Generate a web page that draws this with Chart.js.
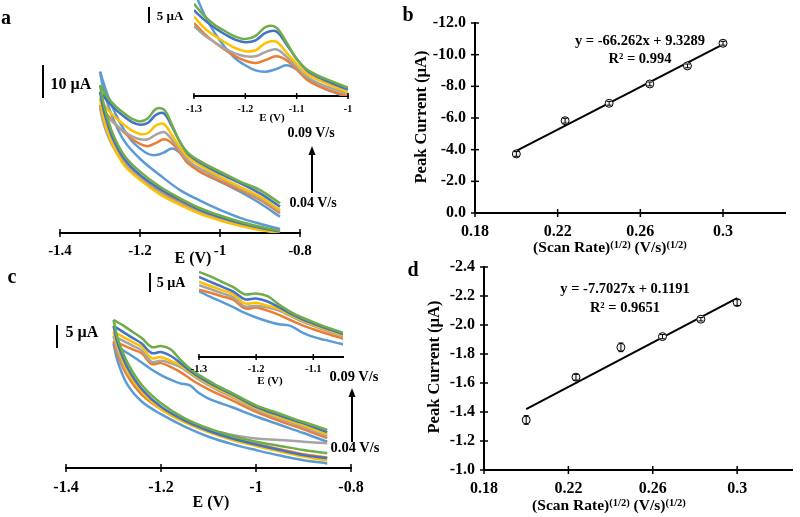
<!DOCTYPE html>
<html>
<head>
<meta charset="utf-8">
<script src="https://cdn.jsdelivr.net/npm/chart.js@4.4.1/dist/chart.umd.min.js"></script>
<style>
  body { margin: 0; background: #fff; }
  #wrap { position: relative; width: 800px; height: 517px; overflow: hidden;
          font-family: "Liberation Serif", "Times New Roman", serif; font-weight: bold; color: #000; }
  #wrap canvas { position: absolute; left: 0; top: 0; }
  .t { position: absolute; white-space: nowrap; line-height: 1; transform: translate(-50%, -50%); }
  .rot { transform: translate(-50%, -50%) rotate(-90deg); }
  sup { font-size: 0.68em; vertical-align: 0.45em; line-height: 0; }
</style>
</head>
<body>
<div id="wrap">
  <canvas id="cvA" width="800" height="517"></canvas>
  <canvas id="cvAi" width="800" height="517"></canvas>
  <canvas id="cvC" width="800" height="517"></canvas>
  <canvas id="cvCi" width="800" height="517"></canvas>
  <canvas id="rateB" width="800" height="517"></canvas>
  <canvas id="rateD" width="800" height="517"></canvas>

  <div class="t" style="left:6px;top:17px;font-size:20px">a</div>
  <div class="t" style="left:408px;top:14px;font-size:20px">b</div>
  <div class="t" style="left:12px;top:276px;font-size:20px">c</div>
  <div class="t" style="left:413px;top:269px;font-size:20px">d</div>

  <div class="t" style="left:71px;top:84px;font-size:16px">10 µA</div>
  <div class="t" style="left:170px;top:15px;font-size:13px">5 µA</div>
  <div class="t" style="left:311px;top:133px;font-size:14px">0.09 V/s</div>
  <div class="t" style="left:313px;top:203px;font-size:14px">0.04 V/s</div>
  <div class="t" style="left:193px;top:258px;font-size:16px">E (V)</div>
  <div class="t" style="left:272px;top:117px;font-size:11px">E (V)</div>

  <div class="t" style="left:82px;top:332px;font-size:16px">5 µA</div>
  <div class="t" style="left:171px;top:283px;font-size:14px">5 µA</div>
  <div class="t" style="left:354px;top:376px;font-size:14.5px">0.09 V/s</div>
  <div class="t" style="left:355px;top:447px;font-size:14.5px">0.04 V/s</div>
  <div class="t" style="left:211px;top:502px;font-size:16px">E (V)</div>
  <div class="t" style="left:270px;top:380px;font-size:11px">E (V)</div>

  <div class="t" style="left:640px;top:40px;font-size:14.5px">y = -66.262x + 9.3289</div>
  <div class="t" style="left:640px;top:58px;font-size:14.5px">R² = 0.994</div>
  <div class="t" style="left:610px;top:247px;font-size:15.5px">(Scan Rate)<sup>(1/2)</sup> (V/s)<sup>(1/2)</sup></div>
  <div class="t rot" style="left:421px;top:117px;font-size:16.5px">Peak Current (µA)</div>

  <div class="t" style="left:625px;top:288px;font-size:14.5px">y = -7.7027x + 0.1191</div>
  <div class="t" style="left:625px;top:307px;font-size:14.5px">R² = 0.9651</div>
  <div class="t" style="left:609px;top:505px;font-size:15.5px">(Scan Rate)<sup>(1/2)</sup> (V/s)<sup>(1/2)</sup></div>
  <div class="t rot" style="left:434px;top:367px;font-size:16.5px">Peak Current (µA)</div>
</div>

<script>
// scan rates and Excel-like colours
const rates = ['0.04 V/s', '0.05 V/s', '0.06 V/s', '0.07 V/s', '0.08 V/s', '0.09 V/s'];
const colors = ['#5B9BD5', '#ED7D31', '#A5A5A5', '#FFC000', '#4472C4', '#70AD47'];

// potentials (V): forward sweep and return sweep
const eUpper = [-1.3, -1.28, -1.26, -1.24, -1.22, -1.2, -1.18, -1.16, -1.14, -1.12, -1.1, -1.08, -1.05, -1.0, -0.95, -0.9, -0.85];
const eLower = [-0.85, -0.9, -0.95, -1.0, -1.05, -1.1, -1.15, -1.2, -1.24, -1.27, -1.29, -1.3];

// panel a currents (µA, offset), one row per scan rate
const aUpper = [
  [48.9, 41.5, 35.8, 31.3, 27.8, 25.6, 24.0, 23.6, 24.4, 25.6, 24.3, 21.6, 18.6, 15.6, 12.5, 9.0, 4.9],
  [38.8, 35.5, 32.8, 30.5, 28.5, 27.0, 26.3, 27.3, 28.4, 27.2, 24.3, 21.1, 18.6, 15.8, 13.0, 10.0, 6.0],
  [37.8, 35.0, 32.8, 30.8, 29.3, 28.4, 28.4, 29.8, 30.6, 28.3, 25.0, 22.0, 19.5, 16.6, 13.5, 10.5, 6.5],
  [40.8, 37.3, 34.8, 32.8, 31.0, 30.0, 30.3, 32.6, 33.0, 29.6, 26.0, 23.0, 20.5, 17.1, 14.0, 11.0, 7.0],
  [42.8, 39.8, 37.3, 35.3, 33.6, 32.8, 33.4, 35.8, 36.2, 32.2, 27.6, 24.0, 21.3, 18.0, 15.1, 12.0, 8.0],
  [44.8, 41.0, 38.3, 36.3, 34.6, 33.8, 34.8, 37.6, 37.4, 32.8, 27.5, 24.3, 21.8, 18.6, 15.6, 13.0, 9.0]
];
const aLower = [
  [1.2, 2.8, 4.6, 7.0, 9.8, 13.0, 17.5, 22.5, 28.0, 35.5, 43.0, 48.9],
  [0.2, 1.4, 2.7, 4.4, 6.5, 9.3, 12.5, 16.8, 21.4, 27.2, 33.2, 38.8],
  [0.1, 1.2, 2.4, 4.1, 6.2, 8.9, 12.2, 16.6, 21.1, 26.7, 32.7, 37.8],
  [0.0, 0.9, 2.2, 3.8, 5.8, 8.5, 11.7, 16.1, 20.6, 27.2, 34.2, 40.8],
  [0.4, 1.6, 3.0, 4.8, 7.0, 10.0, 13.3, 17.6, 22.6, 29.2, 36.8, 42.8],
  [0.6, 1.9, 3.4, 5.3, 7.5, 10.5, 14.0, 18.6, 23.6, 30.7, 38.8, 44.8]
];

// panel c currents (µA, offset)
const cUpper = [
  [27.1, 25.6, 24.3, 22.9, 21.4, 20.2, 19.2, 18.4, 18.0, 16.3, 15.1, 14.3, 13.2, 11.2, 9.4, 7.6, 5.7],
  [27.5, 26.7, 25.8, 24.9, 22.6, 22.8, 22.0, 20.9, 19.5, 18.2, 17.1, 16.1, 14.7, 12.2, 10.2, 8.4, 6.5],
  [28.7, 27.7, 26.6, 25.5, 23.1, 23.3, 22.8, 22.0, 20.6, 19.2, 18.0, 16.9, 15.4, 12.7, 10.7, 8.9, 6.9],
  [29.6, 28.5, 27.4, 26.3, 23.9, 24.1, 23.3, 22.4, 20.9, 19.5, 18.3, 17.2, 15.7, 13.0, 11.0, 9.3, 7.3],
  [30.9, 29.6, 28.3, 27.0, 25.0, 25.2, 24.4, 22.9, 21.2, 19.8, 18.6, 17.5, 16.0, 13.3, 11.4, 9.7, 7.8],
  [32.2, 31.0, 29.6, 28.2, 26.3, 26.5, 25.8, 23.6, 21.7, 20.2, 19.0, 17.8, 16.3, 13.6, 11.8, 10.0, 8.3]
];
const cLower = [
  [1.0, 1.7, 2.7, 3.9, 5.2, 6.8, 9.0, 11.7, 14.4, 18.0, 22.8, 27.1],
  [2.3, 3.0, 4.1, 5.2, 6.5, 8.1, 10.1, 12.8, 15.9, 19.9, 24.2, 27.5],
  [5.4, 5.7, 6.1, 6.4, 7.2, 8.3, 10.1, 13.0, 16.6, 20.6, 24.9, 28.7],
  [1.6, 2.5, 3.6, 4.8, 6.1, 7.8, 9.9, 12.8, 16.6, 20.9, 26.0, 29.6],
  [2.1, 2.8, 3.9, 5.1, 6.4, 8.1, 10.3, 13.3, 17.1, 21.7, 26.7, 30.9],
  [3.2, 3.9, 4.8, 5.7, 7.0, 8.6, 10.8, 14.1, 18.0, 22.8, 27.8, 32.2]
];

// peak current vs square root of scan rate
const rootRate = [0.2, 0.2236, 0.2449, 0.2646, 0.2828, 0.3];
const peakB = [-3.73, -5.83, -6.93, -8.15, -9.29, -10.72];
const errB = [0.15, 0.15, 0.12, 0.12, 0.12, 0.12];
const fitX = [0.2, 0.3];
const fitB = [-3.93, -10.65];
const peakD = [-1.345, -1.64, -1.846, -1.92, -2.04, -2.155];
const errD = [0.03, 0.02, 0.03, 0.015, 0.012, 0.02];
const fitD = [-1.42, -2.185];

// tick values
const cvTicks = [-1.4, -1.2, -1.0, -0.8];
const insetATicks = [-1.3, -1.2, -1.1, -1.0];
const insetCTicks = [-1.3, -1.2, -1.1];
const rateTicks = [0.18, 0.22, 0.26, 0.30];
const yTicksB = [0, -2, -4, -6, -8, -10, -12];
const yTicksD = [-1.0, -1.2, -1.4, -1.6, -1.8, -2.0, -2.2, -2.4];

const W = 800, H = 517, XAXIS_H = 30, YAXIS_W = 50;
const FONT = 'Liberation Serif';

function pad(ar, hasY) {
  return { left: ar.l - (hasY ? YAXIS_W : 0), top: ar.t, right: W - ar.r, bottom: H - ar.b - XAXIS_H };
}

// draws cross tick marks, scale bars, arrows and error bars
const extras = {
  id: 'extras',
  afterDatasetsDraw(chart, args, o) {
    if (!o.errors) return;
    const ctx = chart.ctx;
    ctx.save();
    ctx.strokeStyle = '#000';
    ctx.lineWidth = 1;
    chart.getDatasetMeta(0).data.forEach((pt, i) => {
      const y1 = chart.scales.y.getPixelForValue(o.values[i] - o.errors[i]);
      const y2 = chart.scales.y.getPixelForValue(o.values[i] + o.errors[i]);
      ctx.beginPath();
      ctx.moveTo(pt.x, y1); ctx.lineTo(pt.x, y2);
      ctx.moveTo(pt.x - 2.5, y1); ctx.lineTo(pt.x + 2.5, y1);
      ctx.moveTo(pt.x - 2.5, y2); ctx.lineTo(pt.x + 2.5, y2);
      ctx.stroke();
    });
    ctx.restore();
  },
  afterDraw(chart, args, o) {
    const ctx = chart.ctx, ca = chart.chartArea;
    ctx.save();
    ctx.strokeStyle = '#000';
    ctx.fillStyle = '#000';
    ctx.lineWidth = 1.5;
    const x = chart.scales.x;
    x.ticks.forEach(t => {
      const px = x.getPixelForValue(t.value);
      ctx.beginPath(); ctx.moveTo(px, ca.bottom - o.tick); ctx.lineTo(px, ca.bottom + o.tick); ctx.stroke();
    });
    if (chart.scales.y.options.display) {
      const y = chart.scales.y;
      y.ticks.forEach(t => {
        const py = y.getPixelForValue(t.value);
        ctx.beginPath(); ctx.moveTo(ca.left - o.tick, py); ctx.lineTo(ca.left + o.tick, py); ctx.stroke();
      });
    }
    if (o.bar) {
      const y = chart.scales.y;
      const len = y.getPixelForValue(y.min) - y.getPixelForValue(y.min + o.bar.value);
      ctx.lineWidth = 2;
      ctx.beginPath(); ctx.moveTo(o.bar.x, o.bar.top); ctx.lineTo(o.bar.x, o.bar.top + len); ctx.stroke();
    }
    if (o.arrow) {
      const a = o.arrow;
      ctx.lineWidth = 2;
      ctx.beginPath(); ctx.moveTo(a.x, a.from); ctx.lineTo(a.x, a.to + 6); ctx.stroke();
      ctx.beginPath(); ctx.moveTo(a.x, a.to); ctx.lineTo(a.x - 3.5, a.to + 9); ctx.lineTo(a.x + 3.5, a.to + 9); ctx.closePath(); ctx.fill();
    }
    ctx.restore();
  }
};

function fixTicks(list) {
  return scale => { scale.ticks = list.map(v => ({ value: v })); };
}

function sweep(label, es, ys, color, order) {
  return {
    label, data: es.map((e, k) => ({ x: e, y: ys[k] })), showLine: true,
    borderColor: color, borderWidth: 2.5, pointRadius: 0,
    tension: 0.35, order, fill: false
  };
}

function cvChart(id, up, low, ar, xr, yr, ticks, tickFont, tickPad, extra) {
  const datasets = [];
  rates.forEach((r, i) => {
    datasets.push(sweep(r, eUpper, up[i], colors[i], 5 - i));
    if (low) datasets.push(sweep(r + ' return', eLower, low[i], colors[i], 5 - i));
  });
  return new Chart(document.getElementById(id), {
    type: 'scatter',
    data: { datasets },
    options: {
      responsive: false, animation: false, devicePixelRatio: 1,
      layout: { padding: pad(ar, false) },
      plugins: { legend: { display: false }, tooltip: { enabled: false }, extras: Object.assign({ tick: 4 }, extra) },
      scales: {
        x: {
          type: 'linear', min: xr[0], max: xr[1],
          afterBuildTicks: fixTicks(ticks),
          afterFit: s => { s.height = XAXIS_H; },
          grid: { display: false, drawTicks: false },
          border: { display: true, color: '#000', width: 2 },
          ticks: { color: '#000', padding: tickPad, maxRotation: 0, autoSkip: false,
                   font: { family: FONT, weight: 'bold', size: tickFont },
                   callback: v => String(Number(v.toFixed(2))) }
        },
        y: { type: 'linear', display: false, min: yr[0], max: yr[1] }
      }
    },
    plugins: [extras]
  });
}

cvChart('cvA', aUpper, aLower, { l: 60, t: 68, r: 300, b: 233 }, [-1.4, -0.8], [0, 50], cvTicks, 15, 9,
  { bar: { x: 43, top: 65, value: 10 }, arrow: { x: 312, from: 193, to: 146 } });
cvChart('cvAi', aUpper, null, { l: 194, t: 0, r: 348, b: 96 }, [-1.3, -1.0], [16, 46], insetATicks, 10, 7,
  { tick: 3, bar: { x: 149, top: 7, value: 5 } });
cvChart('cvC', cUpper, cLower, { l: 66, t: 307, r: 351, b: 468 }, [-1.4, -0.8], [0, 35], cvTicks, 16, 10,
  { bar: { x: 57, top: 325, value: 5 }, arrow: { x: 352, from: 442, to: 388 } });
cvChart('cvCi', cUpper, null, { l: 199, t: 270, r: 343, b: 357 }, [-1.3, -1.048], [9.8, 32.7], insetCTicks, 10.5, 6,
  { tick: 3, bar: { x: 150, top: 273, value: 5 } });

function rateChart(id, peaks, errs, fit, ar, xr, yr, yTicks) {
  return new Chart(document.getElementById(id), {
    type: 'scatter',
    data: {
      datasets: [
        { label: 'Peak current', data: rootRate.map((x, i) => ({ x, y: peaks[i] })),
          pointRadius: 4, pointBorderColor: '#000', pointBackgroundColor: '#f2f2f2', pointBorderWidth: 1, order: 0 },
        { label: 'Linear fit', data: fitX.map((x, i) => ({ x, y: fit[i] })), showLine: true,
          borderColor: '#000', borderWidth: 2, pointRadius: 0, order: 1 }
      ]
    },
    options: {
      responsive: false, animation: false, devicePixelRatio: 1,
      layout: { padding: pad(ar, true) },
      plugins: { legend: { display: false }, tooltip: { enabled: false },
                 extras: { tick: 4, values: peaks, errors: errs } },
      scales: {
        x: {
          type: 'linear', min: xr[0], max: xr[1],
          afterBuildTicks: fixTicks(rateTicks),
          afterFit: s => { s.height = XAXIS_H; },
          grid: { display: false, drawTicks: false },
          border: { display: true, color: '#000', width: 2 },
          ticks: { color: '#000', padding: 9, maxRotation: 0, autoSkip: false,
                   font: { family: FONT, weight: 'bold', size: 16 },
                   callback: v => String(Number(v.toFixed(2))) }
        },
        y: {
          type: 'linear', min: yr[0], max: yr[1], reverse: true,
          afterBuildTicks: fixTicks(yTicks),
          afterFit: s => { s.width = YAXIS_W; },
          grid: { display: false, drawTicks: false },
          border: { display: true, color: '#000', width: 2 },
          ticks: { color: '#000', padding: 9, autoSkip: false,
                   font: { family: FONT, weight: 'bold', size: 16 },
                   callback: v => v.toFixed(1) }
        }
      }
    },
    plugins: [extras]
  });
}

rateChart('rateB', peakB, errB, fitB, { l: 475, t: 23, r: 785, b: 213 }, [0.18, 0.33], [-12, 0], yTicksB);
rateChart('rateD', peakD, errD, fitD, { l: 484, t: 267, r: 792, b: 470 }, [0.18, 0.326], [-2.4, -1.0], yTicksD);
</script>
</body>
</html>
